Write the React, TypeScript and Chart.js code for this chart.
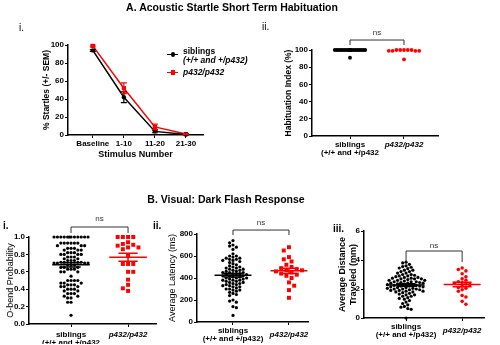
import React, { useEffect, useRef } from "react";
import { Chart, registerables } from "chart.js";

Chart.register(...registerables);

const FONT = "'Liberation Sans', Arial, Helvetica, sans-serif";
const RED = "#ff0000";
const BLACK = "#000000";

// ---------------- DATA ----------------
// A.i  Acoustic startle habituation (% startles +/- SEM)
const stimulusLabels = ["Baseline", "1-10", "11-20", "21-30"];
const sibStartle = [94, 42, 4, 0.5];
const sibStartleSem = [1, 6, 1.5, 0.5];
const mutStartle = [99, 52, 9, 1];
const mutStartleSem = [1, 6, 3, 0.5];

// group tick labels
const habGroupLabels = [["siblings", "(+/+ and +/p432"], ["p432/p432"]];
const bGroupLabels1 = [["siblings", "(+/+ and +/p432"], ["p432/p432"]];
const bGroupLabels2 = [["siblings", "(+/+ and +/p432)"], ["p432/p432"]];

// A.ii Habituation index (%)
const sibHabituation = [
  100, 100, 100, 100, 100, 100, 100, 100, 100, 100,
  100, 100, 100, 100, 100, 100, 100, 100, 100, 100,
  100, 100, 100, 100, 100, 100, 100, 100, 100, 100,
  100, 100, 100, 100, 100, 100, 100, 100, 100, 100,
  91,
];
const mutHabituation = [100, 100, 100, 100, 100, 99, 99, 99, 99, 89];

// B.i O-bend probability
const sibObend = [
  1, 1, 1, 1, 1, 1, 1, 1, 1, 1, 1, 1,
  0.93, 0.93, 0.93, 0.93, 0.93, 0.93,
  0.9, 0.9, 0.9, 0.87, 0.87, 0.87, 0.85, 0.85, 0.85,
  0.82, 0.82, 0.82, 0.8, 0.8, 0.8, 0.8, 0.77, 0.77, 0.77,
  0.75, 0.75, 0.73, 0.73, 0.73, 0.71, 0.71, 0.71, 0.71,
  0.7, 0.7, 0.7, 0.7, 0.68, 0.68, 0.68, 0.65, 0.65, 0.65,
  0.63, 0.63, 0.63, 0.6, 0.6, 0.6, 0.55,
  0.5, 0.5, 0.5, 0.5, 0.47, 0.47, 0.47, 0.45, 0.45, 0.45,
  0.43, 0.43, 0.43, 0.4, 0.4, 0.4, 0.38, 0.38,
  0.35, 0.35, 0.35, 0.32, 0.32, 0.3, 0.3, 0.25, 0.25, 0.1,
];
const mutObend = [
  1, 1, 1, 1, 0.94, 0.92, 0.91, 0.9, 0.88, 0.88, 0.86,
  0.79, 0.69, 0.69, 0.69, 0.6, 0.6, 0.51, 0.45, 0.41, 0.38,
];

// B.ii Average latency (ms)
const sibLatency = [
  740, 720, 700, 690, 680, 660, 620, 600, 600, 590, 580, 580, 570, 570,
  560, 560, 550, 540, 530, 520, 510, 500, 500, 490, 490, 480, 480, 470,
  470, 460, 460, 450, 450, 450, 440, 440, 430, 430, 430, 420, 420, 420,
  410, 410, 400, 400, 400, 390, 390, 380, 380, 380, 370, 370, 360, 360,
  350, 350, 340, 340, 330, 330, 320, 320, 310, 300, 300, 290, 290, 280,
  270, 260, 250, 240, 200, 190, 180, 140, 130, 60,
];
const mutLatency = [
  680, 650, 590, 570, 550, 520, 500, 490, 480, 470, 470,
  460, 450, 440, 430, 420, 400, 360, 330, 290, 220,
];

// B.iii Average distance traveled (mm)
const sibDistance = [
  3.85, 3.8, 3.7, 3.6, 3.55, 3.5, 3.45, 3.4, 3.3, 3.3, 3.2, 3.2, 3.1, 3.1,
  3.0, 3.0, 2.95, 2.9, 2.9, 2.85, 2.8, 2.8, 2.75, 2.75, 2.7, 2.7, 2.7, 2.65,
  2.6, 2.6, 2.6, 2.55, 2.5, 2.5, 2.5, 2.45, 2.45, 2.4, 2.4, 2.4, 2.35, 2.3,
  2.3, 2.3, 2.25, 2.25, 2.2, 2.2, 2.2, 2.15, 2.15, 2.1, 2.1, 2.05, 2.05,
  2.0, 2.0, 2.0, 1.95, 1.95, 1.9, 1.9, 1.85, 1.85, 1.8, 1.8, 1.75, 1.7,
  1.65, 1.6, 1.6, 1.5, 1.5, 1.4, 1.35, 1.3, 1.2, 1.1, 1.0, 0.9, 0.8, 0.75,
  0.65, 0.6, 0.0,
];
const mutDistance = [
  3.45, 3.35, 3.25, 3.05, 2.85, 2.7, 2.6, 2.5, 2.45, 2.4, 2.35,
  2.3, 2.2, 2.1, 2.05, 1.95, 1.85, 1.55, 1.45, 1.15, 0.95,
];

// ---------------- HELPERS ----------------
const meanOf = (a: number[]) => a.reduce((s, v) => s + v, 0) / a.length;
const semOf = (a: number[]) => {
  const m = meanOf(a);
  const sd = Math.sqrt(a.reduce((s, v) => s + (v - m) * (v - m), 0) / (a.length - 1));
  return sd / Math.sqrt(a.length);
};

// deterministic beeswarm layout (pixel space), returns points in data units
function swarm(values: number[], center: number, pxX: number, pxY: number, r: number, maxHalf: number) {
  const order = values.map((_, i) => i).sort((a, b) => values[b] - values[a]);
  const placed: { x: number; y: number }[] = [];
  const out: { x: number; y: number }[] = new Array(values.length);
  const step = r;
  let flip = 1;
  for (const i of order) {
    const y = values[i] * pxY;
    let best = 0;
    let bestD = -1;
    let found = false;
    for (let k = 0; k * step <= maxHalf && !found; k++) {
      const cands = k === 0 ? [0] : [flip * k * step, -flip * k * step];
      for (const c of cands) {
        let md = Infinity;
        for (const p of placed) {
          const d = Math.hypot(p.x - c, p.y - y);
          if (d < md) md = d;
        }
        if (md >= 2 * r * 0.95) {
          best = c;
          found = true;
          break;
        }
        if (md > bestD) {
          bestD = md;
          best = c;
        }
      }
    }
    flip = -flip;
    placed.push({ x: best, y });
    out[i] = { x: center + best / pxX, y: values[i] };
  }
  return out;
}

type Box = { L: number; T: number; R: number; B: number; yW: number; xH: number };

function yAxis(o: {
  min: number; max: number; step: number; fmt?: (v: number) => string;
  title: string | string[]; titleFont: any; yW: number;
}) {
  return {
    type: "linear",
    min: o.min,
    max: o.max,
    ticks: {
      stepSize: o.step,
      color: BLACK,
      font: { family: FONT, size: 8, weight: "bold" },
      padding: 1,
      callback: (v: number) => (o.fmt ? o.fmt(v) : String(v)),
    },
    grid: { display: true, drawOnChartArea: false, drawTicks: true, tickLength: 3, color: BLACK, lineWidth: 1 },
    border: { display: true, color: BLACK, width: 1.5 },
    title: { display: true, text: o.title, color: BLACK, font: o.titleFont, padding: 0 },
    afterFit: (s: any) => {
      s.width = o.yW;
    },
  };
}

function xAxis(o: {
  min: number; max: number; ticks: number[]; labels: (string | string[])[];
  italic: boolean[]; xH: number; title?: string; pad?: number; cross?: string;
}) {
  return {
    type: "linear",
    min: o.min,
    max: o.max,
    afterBuildTicks: (s: any) => {
      s.ticks = o.ticks.map((v) => ({ value: v }));
    },
    ticks: {
      autoSkip: false,
      maxRotation: 0,
      minRotation: 0,
      color: BLACK,
      padding: o.pad ?? 2,
      crossAlign: o.cross ?? "near",
      font: (ctx: any) => ({
        family: FONT, size: 8, weight: "bold", lineHeight: 0.95,
        style: o.italic[ctx.index] ? "italic" : "normal",
      }),
      callback: (_v: number, i: number) => o.labels[i],
    },
    grid: { display: true, drawOnChartArea: false, drawTicks: true, tickLength: 3, color: BLACK, lineWidth: 1 },
    border: { display: true, color: BLACK, width: 1.5 },
    title: o.title
      ? { display: true, text: o.title, color: BLACK, font: { family: FONT, size: 9, weight: "bold" }, padding: 0 }
      : { display: false },
    afterFit: (s: any) => {
      s.height = o.xH;
    },
  };
}

function padding(b: Box) {
  return { left: b.L - b.yW, top: b.T, right: 500 - b.R, bottom: 345 - b.B - b.xH };
}

function bracketPlugin(br: { top: number; leg: number; text: number }) {
  return {
    id: "bracket",
    afterDraw(chart: any) {
      const { ctx, scales } = chart;
      const x0 = scales.x.getPixelForValue(0);
      const x1 = scales.x.getPixelForValue(1);
      const yt = scales.y.getPixelForValue(br.top);
      const yl = scales.y.getPixelForValue(br.leg);
      const ytx = scales.y.getPixelForValue(br.text);
      ctx.save();
      ctx.strokeStyle = "#333";
      ctx.lineWidth = 1;
      ctx.beginPath();
      ctx.moveTo(x0, yl);
      ctx.lineTo(x0, yt);
      ctx.lineTo(x1, yt);
      ctx.lineTo(x1, yl);
      ctx.stroke();
      ctx.fillStyle = "#333";
      ctx.font = `8px ${FONT}`;
      ctx.textAlign = "center";
      ctx.textBaseline = "middle";
      ctx.fillText("ns", (x0 + x1) / 2, ytx);
      ctx.restore();
    },
  };
}

function meanSemPlugin(groups: { values: number[]; color: string }[], half: number, cap: number) {
  return {
    id: "meanSem",
    beforeDatasetsDraw(chart: any) {
      const { ctx, scales } = chart;
      ctx.save();
      ctx.lineWidth = 1.5;
      groups.forEach((g, gi) => {
        const m = meanOf(g.values);
        const se = semOf(g.values);
        const ym = scales.y.getPixelForValue(m);
        const yh = scales.y.getPixelForValue(m + se);
        const yl = scales.y.getPixelForValue(m - se);
        const xc = scales.x.getPixelForValue(gi);
        const xa = scales.x.getPixelForValue(gi - half);
        const xb = scales.x.getPixelForValue(gi + half);
        const ca = scales.x.getPixelForValue(gi - cap);
        const cb = scales.x.getPixelForValue(gi + cap);
        ctx.strokeStyle = g.color;
        ctx.beginPath();
        ctx.moveTo(xa, ym);
        ctx.lineTo(xb, ym);
        ctx.moveTo(xc, yh);
        ctx.lineTo(xc, yl);
        ctx.moveTo(ca, yh);
        ctx.lineTo(cb, yh);
        ctx.moveTo(ca, yl);
        ctx.lineTo(cb, yl);
        ctx.stroke();
      });
      ctx.restore();
    },
  };
}

type Group = { values: number[]; color: string; style: string; radius: number; collide: number; spread: number };

function buildScatter(
  canvas: HTMLCanvasElement,
  s: {
    box: Box; xMin: number; xMax: number;
    yMin: number; yMax: number; yStep: number; yFmt?: (v: number) => string;
    yTitle: string | string[]; yTitleFont: any;
    labels: (string | string[])[];
    groups: Group[];
    bracket: { top: number; leg: number; text: number };
    meanLines: boolean;
    pad?: number; cross?: string;
  }
) {
  const b = s.box;
  const pxX = (b.R - b.L) / (s.xMax - s.xMin);
  const pxY = (b.B - b.T) / (s.yMax - s.yMin);
  const datasets = s.groups.map((g, gi) => ({
    data: swarm(g.values, gi, pxX, pxY, g.collide, g.spread),
    backgroundColor: g.color,
    borderColor: g.color,
    borderWidth: 0,
    pointStyle: g.style,
    pointRadius: g.radius,
    clip: false,
  }));
  const plugins: any[] = [bracketPlugin(s.bracket)];
  if (s.meanLines) plugins.push(meanSemPlugin(s.groups, 0.33, 0.17));
  return new Chart(canvas, {
    type: "scatter",
    data: { datasets } as any,
    options: {
      responsive: false,
      animation: false,
      devicePixelRatio: 1,
      events: [],
      layout: { padding: padding(b) },
      plugins: { legend: { display: false }, tooltip: { enabled: false } },
      scales: {
        x: xAxis({
          min: s.xMin, max: s.xMax, ticks: [0, 1], labels: s.labels, italic: [false, true],
          xH: b.xH, pad: s.pad, cross: s.cross,
        }),
        y: yAxis({ min: s.yMin, max: s.yMax, step: s.yStep, fmt: s.yFmt, title: s.yTitle, titleFont: s.yTitleFont, yW: b.yW }),
      } as any,
    } as any,
    plugins,
  });
}

function buildStartle(canvas: HTMLCanvasElement) {
  const b: Box = { L: 68, T: 45, R: 203, B: 135, yW: 26, xH: 25 };
  const series = [
    { values: sibStartle, sem: sibStartleSem, color: BLACK, style: "circle", radius: 2.2 },
    { values: mutStartle, sem: mutStartleSem, color: RED, style: "rect", radius: 3 },
  ];
  const errPlugin = {
    id: "errorBars",
    afterDatasetsDraw(chart: any) {
      const { ctx, scales } = chart;
      ctx.save();
      ctx.lineWidth = 1.2;
      series.forEach((s) => {
        ctx.strokeStyle = s.color;
        s.values.forEach((v, i) => {
          const x = scales.x.getPixelForValue(i);
          const yh = scales.y.getPixelForValue(v + s.sem[i]);
          const yl = scales.y.getPixelForValue(Math.max(0, v - s.sem[i]));
          ctx.beginPath();
          ctx.moveTo(x, yh);
          ctx.lineTo(x, yl);
          ctx.moveTo(x - 3, yh);
          ctx.lineTo(x + 3, yh);
          ctx.moveTo(x - 3, yl);
          ctx.lineTo(x + 3, yl);
          ctx.stroke();
        });
      });
      ctx.restore();
    },
  };
  return new Chart(canvas, {
    type: "scatter",
    data: {
      datasets: series.map((s) => ({
        data: s.values.map((v, i) => ({ x: i, y: v })),
        showLine: true,
        borderColor: s.color,
        backgroundColor: s.color,
        borderWidth: 1.5,
        pointStyle: s.style,
        pointRadius: s.radius,
        pointBorderWidth: 0,
        clip: false,
      })),
    } as any,
    options: {
      responsive: false,
      animation: false,
      devicePixelRatio: 1,
      events: [],
      layout: { padding: padding(b) },
      plugins: { legend: { display: false }, tooltip: { enabled: false } },
      scales: {
        x: xAxis({
          min: -0.8, max: 3.55, ticks: [0, 1, 2, 3], labels: stimulusLabels,
          italic: [false, false, false, false], xH: b.xH, title: "Stimulus Number",
        }),
        y: yAxis({
          min: 0, max: 100, step: 20, title: "% Startles (+/- SEM)",
          titleFont: { family: FONT, size: 8.5, weight: "bold" }, yW: b.yW,
        }),
      } as any,
    } as any,
    plugins: [errPlugin],
  });
}

const builders: ((c: HTMLCanvasElement) => Chart)[] = [
  buildStartle,
  (c) =>
    buildScatter(c, {
      box: { L: 312, T: 50, R: 438, B: 136, yW: 28, xH: 30 },
      xMin: -0.704, xMax: 1.63, yMin: 0, yMax: 100, yStep: 20,
      yTitle: "Habituation Index (%)", yTitleFont: { family: FONT, size: 8.5, weight: "bold" },
      labels: habGroupLabels,
      groups: [
        { values: sibHabituation, color: BLACK, style: "circle", radius: 1.9, collide: 1.9, spread: 17 },
        { values: mutHabituation, color: RED, style: "circle", radius: 1.9, collide: 1.9, spread: 17 },
      ],
      bracket: { top: 111.6, leg: 105.8, text: 119.8 },
      meanLines: false,
    }),
  (c) =>
    buildScatter(c, {
      box: { L: 29, T: 237, R: 156, B: 324, yW: 24, xH: 20 },
      xMin: -0.737, xMax: 1.49, yMin: 0, yMax: 1, yStep: 0.2, yFmt: (v) => v.toFixed(1),
      yTitle: "O-bend Probability", yTitleFont: { family: FONT, size: 9 },
      labels: bGroupLabels1,
      groups: [
        { values: sibObend, color: BLACK, style: "circle", radius: 1.6, collide: 1.7, spread: 19 },
        { values: mutObend, color: RED, style: "rect", radius: 2.8, collide: 2.6, spread: 17 },
      ],
      bracket: { top: 1.115, leg: 1.046, text: 1.207 },
      meanLines: true,
      pad: 4,
    }),
  (c) =>
    buildScatter(c, {
      box: { L: 197, T: 234, R: 308, B: 322, yW: 30, xH: 22 },
      xMin: -0.643, xMax: 1.34, yMin: 0, yMax: 800, yStep: 200,
      yTitle: "Average Latency (ms)", yTitleFont: { family: FONT, size: 9 },
      labels: bGroupLabels2,
      groups: [
        { values: sibLatency, color: BLACK, style: "circle", radius: 1.6, collide: 1.7, spread: 19 },
        { values: mutLatency, color: RED, style: "rect", radius: 2.8, collide: 2.6, spread: 15 },
      ],
      bracket: { top: 836, leg: 790, text: 900 },
      meanLines: true,
      cross: "center",
      pad: 6,
    }),
  (c) =>
    buildScatter(c, {
      box: { L: 364, T: 231, R: 484, B: 318, yW: 27, xH: 25 },
      xMin: -0.75, xMax: 1.39, yMin: 0, yMax: 6, yStep: 2,
      yTitle: ["Average Distance", "Traveled (mm)"], yTitleFont: { family: FONT, size: 9, weight: "bold" },
      labels: bGroupLabels2,
      groups: [
        { values: sibDistance, color: BLACK, style: "circle", radius: 1.6, collide: 1.7, spread: 20 },
        { values: mutDistance, color: RED, style: "circle", radius: 1.8, collide: 1.9, spread: 15 },
      ],
      bracket: { top: 4.62, leg: 3.86, text: 4.97 },
      meanLines: true,
      cross: "center",
      pad: 6,
    }),
];

function Panel({ build }: { build: (c: HTMLCanvasElement) => Chart }) {
  const ref = useRef<HTMLCanvasElement>(null);
  useEffect(() => {
    const ch = build(ref.current!);
    return () => ch.destroy();
  }, []);
  return (
    <canvas
      ref={ref}
      width={500}
      height={345}
      style={{ position: "absolute", left: 0, top: 0, width: 500, height: 345 }}
    />
  );
}

const txt = (x: number, y: number, content: React.ReactNode, style: React.CSSProperties = {}, center = false) => (
  <div
    style={{
      position: "absolute",
      left: x,
      top: y,
      transform: center ? "translate(-50%, -50%)" : "translate(0, -50%)",
      whiteSpace: "nowrap",
      lineHeight: 1,
      color: BLACK,
      ...style,
    }}
  >
    {content}
  </div>
);

export default function App() {
  return (
    <div
      style={{
        position: "absolute",
        left: 0,
        top: 0,
        width: 500,
        height: 345,
        background: "#fff",
        overflow: "hidden",
        fontFamily: FONT,
      }}
    >
      {builders.map((b, i) => (
        <Panel key={i} build={b} />
      ))}
      {txt(232, 7, "A. Acoustic Startle Short Term Habituation", { fontSize: 10.5, fontWeight: "bold" }, true)}
      {txt(19, 28, "i.", { fontSize: 10 })}
      {txt(262, 27, "ii.", { fontSize: 10 })}
      {txt(226, 199, "B. Visual: Dark Flash Response", { fontSize: 10.5, fontWeight: "bold" }, true)}
      {txt(3, 226, "i.", { fontSize: 10, fontWeight: "bold" })}
      {txt(153, 226, "ii.", { fontSize: 10, fontWeight: "bold" })}
      {txt(333, 229, "iii.", { fontSize: 10, fontWeight: "bold" })}
      {/* legend A.i */}
      <div style={{ position: "absolute", left: 167, top: 53.5, width: 11, height: 1.5, background: BLACK }} />
      <div style={{ position: "absolute", left: 170.5, top: 52, width: 4.5, height: 4.5, borderRadius: "50%", background: BLACK }} />
      {txt(183, 51, "siblings", { fontSize: 8.5, fontWeight: "bold" })}
      {txt(183, 59.5, <span style={{ fontStyle: "italic" }}>(+/+ and +/p432)</span>, { fontSize: 8.5, fontWeight: "bold" })}
      <div style={{ position: "absolute", left: 167, top: 71.5, width: 11, height: 1.5, background: RED }} />
      <div style={{ position: "absolute", left: 170.5, top: 70, width: 4.5, height: 4.5, background: RED }} />
      {txt(183, 72, "p432/p432", { fontSize: 8.5, fontWeight: "bold", fontStyle: "italic" })}
    </div>
  );
}
